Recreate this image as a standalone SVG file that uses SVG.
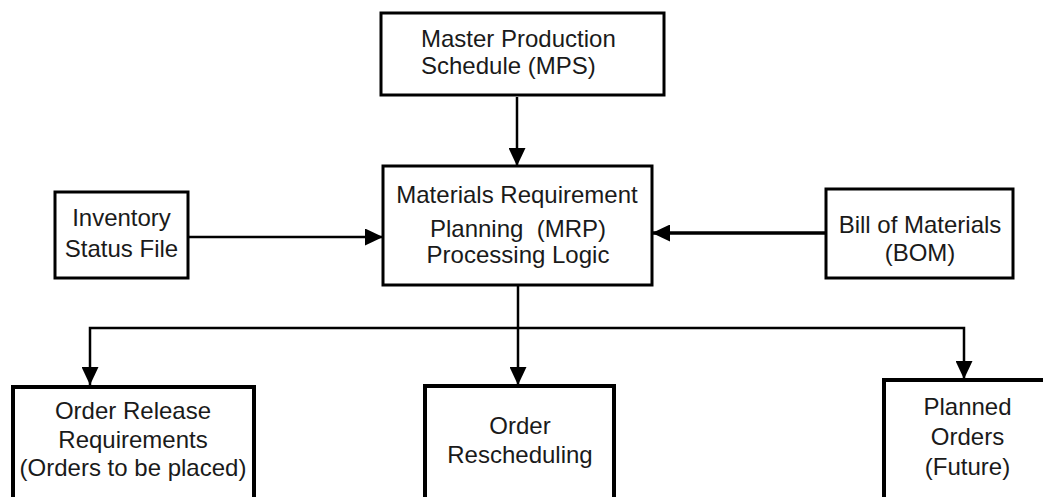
<svg xmlns="http://www.w3.org/2000/svg" width="1043" height="497" viewBox="0 0 1043 497">
  <style>
    .box { fill: #ffffff; stroke: #000000; stroke-width: 3; }
    .box-heavy { fill: #ffffff; stroke: #000000; stroke-width: 4; }
    .label { font-family: "Liberation Sans", Arial, sans-serif; font-size: 24px; fill: #1a1a1a; text-anchor: middle; }
    .label-left { text-anchor: start; }
    .wire { fill: none; stroke: #000000; stroke-width: 2.5; }
    .wire-heavy { fill: none; stroke: #000000; stroke-width: 3.5; }
  </style>
  <defs>
    <marker id="arrow" markerUnits="userSpaceOnUse" markerWidth="18" markerHeight="17" refX="18" refY="8.5" orient="auto" viewBox="0 0 18 17">
      <path d="M0,0 L18,8.5 L0,17 z" fill="#000000"/>
    </marker>
  </defs>

  <rect width="1043" height="497" fill="#ffffff"/>

  <!-- connectors -->
  <g id="connectors">
    <line class="wire" x1="517" y1="97" x2="517" y2="166" marker-end="url(#arrow)"/>
    <line class="wire" x1="188" y1="237" x2="383" y2="237" marker-end="url(#arrow)"/>
    <line class="wire-heavy" x1="826" y1="233" x2="652" y2="233" marker-end="url(#arrow)"/>
    <line class="wire" x1="518" y1="286" x2="518" y2="385" marker-end="url(#arrow)"/>
    <polyline class="wire" points="518,328 90,328 90,385" marker-end="url(#arrow)"/>
    <polyline class="wire" points="518,328 964,328 964,379" marker-end="url(#arrow)"/>
  </g>

  <!-- Master Production Schedule -->
  <g id="node-mps">
    <rect class="box" x="381" y="13" width="283" height="82"/>
    <text class="label label-left" x="421" y="47">Master Production</text>
    <text class="label label-left" x="421" y="74">Schedule (MPS)</text>
  </g>

  <!-- MRP processing logic -->
  <g id="node-mrp">
    <rect class="box" x="383" y="166" width="269" height="119"/>
    <text class="label" x="517" y="203">Materials Requirement</text>
    <text class="label" x="518" y="237" xml:space="preserve">Planning  (MRP)</text>
    <text class="label" x="518" y="263">Processing Logic</text>
  </g>

  <!-- Inventory status file -->
  <g id="node-inventory">
    <rect class="box" x="55" y="192" width="133" height="86"/>
    <text class="label" x="121.5" y="226">Inventory</text>
    <text class="label" x="121.5" y="257">Status File</text>
  </g>

  <!-- Bill of materials -->
  <g id="node-bom">
    <rect class="box" x="826" y="189" width="187" height="89"/>
    <text class="label" x="920" y="233">Bill of Materials</text>
    <text class="label" x="920" y="261">(BOM)</text>
  </g>

  <!-- Order release requirements -->
  <g id="node-release">
    <rect class="box-heavy" x="13" y="387" width="241" height="130"/>
    <text class="label" x="133" y="419">Order Release</text>
    <text class="label" x="133" y="448">Requirements</text>
    <text class="label" x="133" y="476">(Orders to be placed)</text>
  </g>

  <!-- Order rescheduling -->
  <g id="node-reschedule">
    <rect class="box-heavy" x="425" y="386" width="189" height="130"/>
    <text class="label" x="520" y="434">Order</text>
    <text class="label" x="520" y="463">Rescheduling</text>
  </g>

  <!-- Planned orders -->
  <g id="node-planned">
    <rect class="box-heavy" x="884" y="380" width="170" height="140"/>
    <text class="label" x="967.5" y="415">Planned</text>
    <text class="label" x="967.5" y="445">Orders</text>
    <text class="label" x="967.5" y="475">(Future)</text>
  </g>
</svg>
